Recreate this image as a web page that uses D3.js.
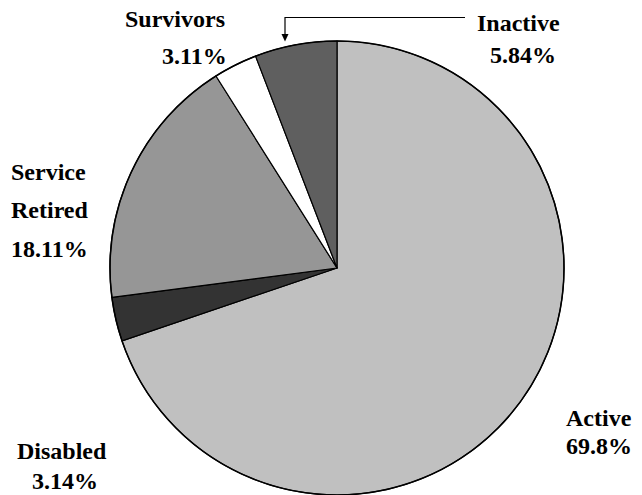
<!DOCTYPE html>
<html>
<head>
<meta charset="utf-8">
<script src="https://cdn.jsdelivr.net/npm/d3@7"></script>
</head>
<body style="margin:0">
<svg id="chart" width="642" height="495" style="font-family: 'Liberation Serif'; font-weight: bold; font-size: 24px;"></svg>
<script>
// Membership breakdown by status (percent of total)
const categories = ["Active", "Disabled", "Service Retired", "Survivors", "Inactive"];
const shares = [69.8, 3.14, 18.11, 3.11, 5.84];
const shareLabels = ["69.8%", "3.14%", "18.11%", "3.11%", "5.84%"];
const fills = ["#c0c0c0", "#333333", "#969696", "#ffffff", "#5f5f5f"];

const width = 642, height = 495;
const cx = 337, cy = 268, radius = 227;

const svg = d3.select("#chart");

// text first, so the slices sit in their own group below it in the markup order
const labelGroup = svg.append("g").attr("class", "labels");

const pie = d3.pie().sort(null).value(d => d.value).startAngle(0).endAngle(2 * Math.PI);
const arc = d3.arc().innerRadius(0).outerRadius(radius);

const slices = pie(categories.map((c, i) => ({ name: c, value: shares[i], fill: fills[i] })));

const g = svg.insert("g", ".labels").attr("transform", `translate(${cx},${cy})`);

g.selectAll("path.slice")
  .data(slices)
  .join("path")
  .attr("class", "slice")
  .attr("d", arc)
  .attr("fill", d => d.data.fill)
  .attr("stroke", "#000")
  .attr("stroke-width", 1.2)
  .attr("stroke-linejoin", "round");

// outer rim
g.append("circle")
  .attr("r", radius)
  .attr("fill", "none")
  .attr("stroke", "#000")
  .attr("stroke-width", 1.5);

// label layout: lines of text per category (1 marks the percentage line)
const labelLayout = {
  "Active":          { lines: ["Active", 1], x: 566, y: [426, 454] },
  "Disabled":        { lines: ["Disabled", 1], x: 17, y: [459, 489], x2: 32 },
  "Service Retired": { lines: ["Service", "Retired", 1], x: 11, y: [180, 218, 257] },
  "Survivors":       { lines: ["Survivors", 1], x: 125, y: [27, 64], x2: 162 },
  "Inactive":        { lines: ["Inactive", 1], x: 477, y: [31, 63], x2: 490 }
};

categories.forEach((c, i) => {
  const L = labelLayout[c];
  L.lines.forEach((ln, k) => {
    const isValue = ln === 1;
    labelGroup.append("text")
      .attr("x", isValue && L.x2 !== undefined ? L.x2 : L.x)
      .attr("y", L.y[k])
      .attr("font-family", "Liberation Serif")
      .style("font", "bold 24px 'Liberation Serif', Tinos")
      .text(isValue ? shareLabels[i] : ln);
  });
});

// callout arrow for the Inactive slice
svg.append("path")
  .attr("d", "M465,17.5 H285 V34")
  .attr("fill", "none")
  .attr("stroke", "#000")
  .attr("stroke-width", 1.2);
svg.append("path")
  .attr("d", "M281.5,34 L288.5,34 L285,41.5 Z")
  .attr("fill", "#000");
</script>
</body>
</html>
